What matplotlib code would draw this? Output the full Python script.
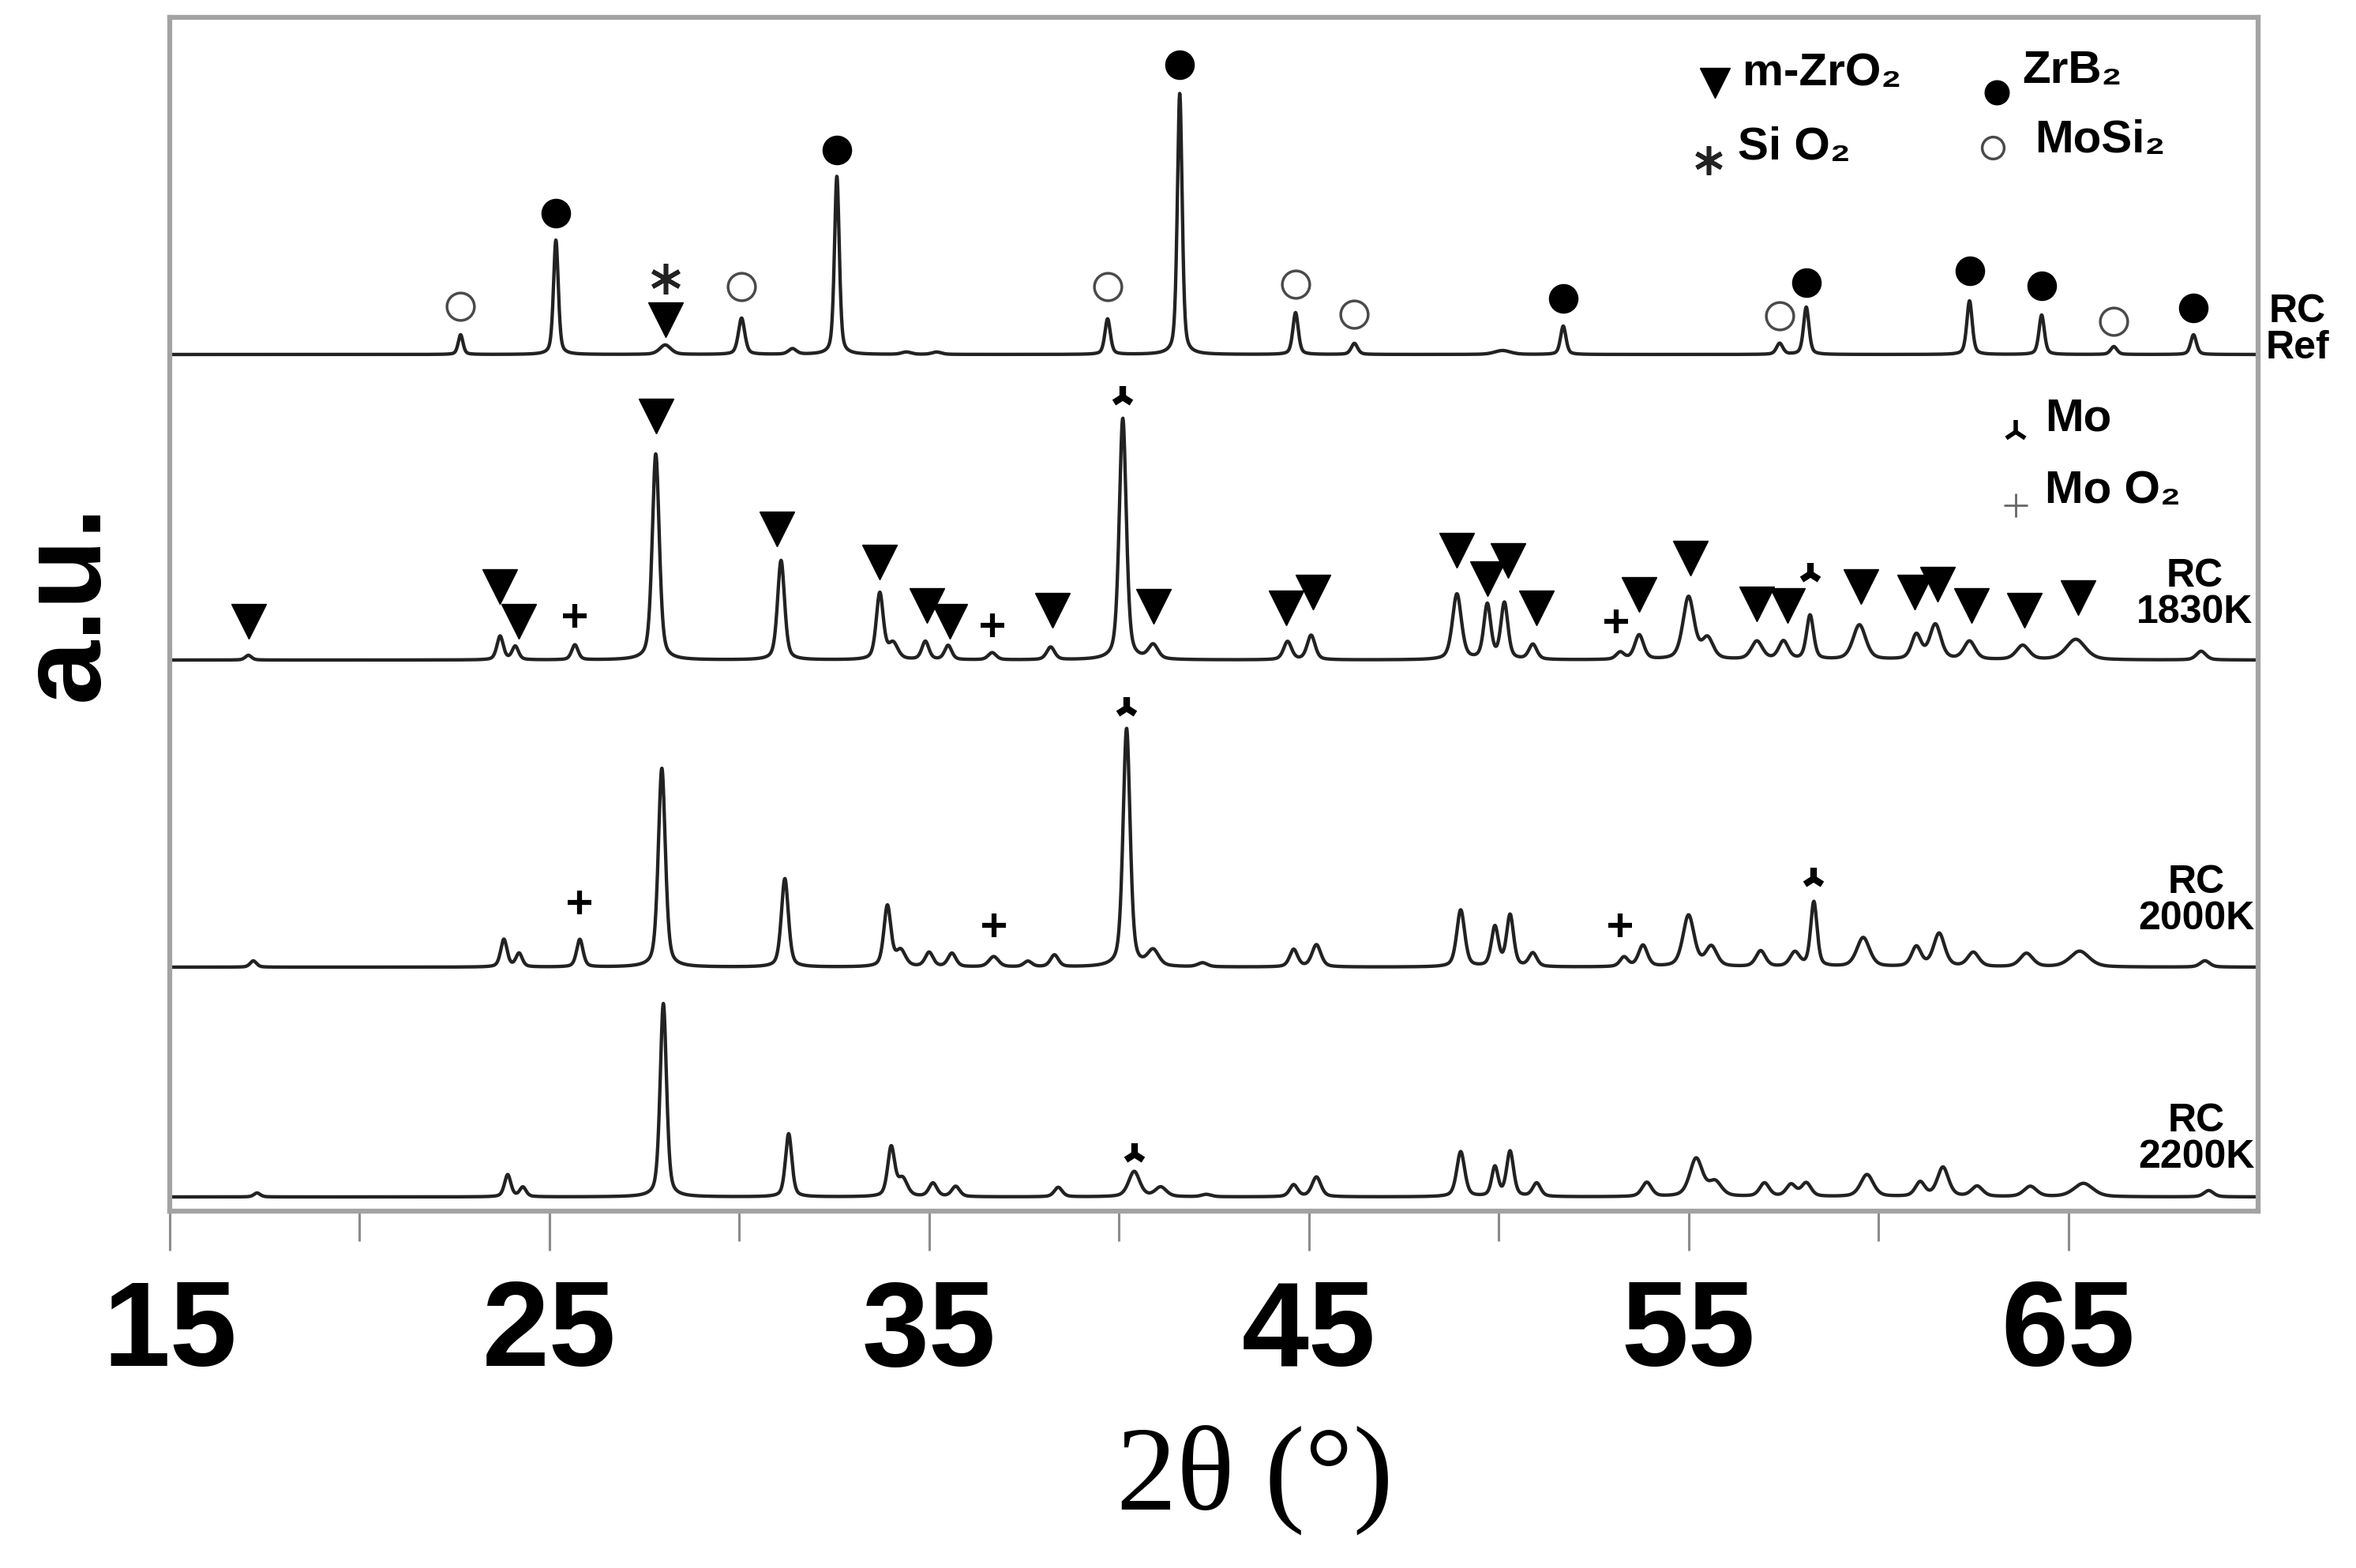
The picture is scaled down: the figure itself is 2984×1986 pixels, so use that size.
import numpy as np
import matplotlib
matplotlib.use("Agg")
import matplotlib.pyplot as plt

SANS = ["Liberation Sans", "DejaVu Sans"]
SERIF = ["Liberation Serif", "DejaVu Serif"]

# Peak tables: position (2theta), height (a.u.), FWHM
REF_POS = [22.66, 25.17, 28.05, 30.06, 31.4, 32.57, 34.4, 35.2, 39.7, 41.6,
           44.65, 46.2, 50.1, 51.7, 57.4, 58.1, 62.4, 64.3, 66.2, 68.3]
REF_HT = [25, 145, 12, 46, 7, 226, 3, 3, 45, 331,
          53, 14, 5, 36, 14, 60, 68, 50, 10, 25]
REF_W = [0.15, 0.15, 0.35, 0.2, 0.25, 0.15, 0.3, 0.3, 0.17, 0.15,
         0.17, 0.2, 0.5, 0.17, 0.2, 0.17, 0.17, 0.17, 0.2, 0.18]

K1830_POS = [17.07, 23.7, 24.1, 25.67, 27.8, 31.1, 33.7, 34.05, 34.9, 35.5,
             36.66, 38.2, 40.1, 40.9, 44.44, 45.06, 48.9, 49.7, 50.15, 50.9,
             53.2, 53.7, 55.0, 55.5, 56.8, 57.5, 58.2, 59.5, 61.0, 61.5,
             62.4, 63.8, 65.2, 68.5]
K1830_HT = [6, 30, 17, 19, 261, 126, 84, 20, 23, 18,
            9, 16, 306, 18, 23, 31, 83, 69, 71, 19,
            9, 31, 79, 26, 23, 23, 56, 44, 31, 44,
            23, 18, 26, 11]
K1830_W = [0.2, 0.2, 0.2, 0.2, 0.22, 0.22, 0.22, 0.3, 0.22, 0.22,
           0.25, 0.25, 0.22, 0.3, 0.25, 0.25, 0.28, 0.22, 0.22, 0.25,
           0.25, 0.28, 0.35, 0.35, 0.35, 0.3, 0.22, 0.4, 0.3, 0.35,
           0.35, 0.4, 0.6, 0.3]

K2000_POS = [17.2, 23.8, 24.2, 25.8, 27.96, 31.2, 33.9, 34.25, 35.0, 35.6,
             36.7, 37.6, 38.3, 40.2, 40.9, 42.2, 44.6, 45.2, 49.0, 49.9,
             50.3, 50.9, 53.3, 53.8, 55.0, 55.6, 56.9, 57.8, 58.3, 59.6,
             61.0, 61.6, 62.5, 63.9, 65.3, 68.6]
K2000_HT = [8, 35, 17, 35, 252, 112, 77, 20, 18, 17,
            13, 7, 15, 302, 20, 5, 22, 28, 72, 50,
            65, 17, 12, 27, 65, 25, 20, 18, 82, 37,
            25, 42, 18, 17, 20, 8]
K2000_W = [0.2, 0.2, 0.2, 0.2, 0.22, 0.22, 0.22, 0.3, 0.25, 0.25,
           0.3, 0.25, 0.25, 0.22, 0.35, 0.3, 0.25, 0.28, 0.25, 0.22,
           0.22, 0.25, 0.25, 0.28, 0.35, 0.35, 0.3, 0.3, 0.2, 0.4,
           0.3, 0.35, 0.35, 0.4, 0.6, 0.3]

K2200_POS = [17.3, 23.9, 24.3, 28.0, 31.3, 34.0, 34.3, 35.1, 35.7, 38.4,
             40.4, 41.1, 42.3, 44.6, 45.2, 49.0, 49.9, 50.3, 51.0, 53.9,
             55.2, 55.7, 57.0, 57.7, 58.1, 59.7, 61.1, 61.7, 62.6, 64.0,
             65.4, 68.7]
K2200_HT = [5, 28, 12, 245, 80, 62, 22, 17, 13, 12,
            32, 12, 3, 15, 25, 57, 37, 57, 17, 18,
            48, 18, 17, 15, 17, 28, 18, 37, 13, 13,
            17, 8]
K2200_W = [0.2, 0.2, 0.2, 0.2, 0.2, 0.22, 0.3, 0.25, 0.25, 0.25,
           0.35, 0.35, 0.3, 0.25, 0.28, 0.25, 0.2, 0.22, 0.25, 0.3,
           0.4, 0.4, 0.3, 0.3, 0.3, 0.4, 0.3, 0.35, 0.35, 0.4,
           0.6, 0.3]

# vertical offsets (baselines) of the stacked patterns
OFFSETS = [1085, 698, 309, 18]
LABELS = ["RC\nRef", "RC\n1830K", "RC\n2000K", "RC\n2200K"]

# phase markers: position and height above the pattern baseline
REF_ZRB2_POS = [25.17, 32.57, 41.6, 51.7, 58.1, 62.4, 64.3, 68.3]
REF_ZRB2_H = [179, 259, 367, 71, 91, 106, 87, 59]
REF_MOSI2_POS = [22.66, 30.06, 39.7, 44.65, 46.2, 57.4, 66.2]
REF_MOSI2_H = [61, 86, 86, 89, 51, 49, 42]
REF_ZRO2_POS = [28.05]
REF_ZRO2_H = [44]
REF_SIO2_POS = [28.05]
REF_SIO2_H = [96]

K1830_ZRO2_POS = [17.07, 23.7, 24.2, 27.8, 31.0, 33.7, 34.95, 35.55, 38.25,
                  40.9, 44.4, 45.1, 48.9, 49.7, 50.25, 51.0, 53.7, 55.05,
                  56.8, 57.6, 59.55, 60.95, 61.55, 62.45, 63.85, 65.25]
K1830_ZRO2_H = [49, 93, 49, 309, 166, 124, 69, 49, 63,
                68, 66, 86, 139, 103, 126, 66, 83, 129,
                71, 69, 93, 86, 96, 69, 63, 79]
K1830_MO_POS = [40.1, 58.2]
K1830_MO_H = [333, 109]
K1830_MOO2_POS = [25.67, 36.66, 53.1]
K1830_MOO2_H = [56, 44, 49]

K2000_MO_POS = [40.2, 58.3]
K2000_MO_H = [328, 112]
K2000_MOO2_POS = [25.8, 36.7, 53.2]
K2000_MOO2_H = [82, 53, 53]

K2200_MO_POS = [40.4]
K2200_MO_H = [54]

XTICKS = [15, 25, 35, 45, 55, 65]


def pseudo_voigt(x, pos, ht, wid, eta=0.45):
    y = np.zeros_like(x)
    for p, h, w in zip(pos, ht, wid):
        g = np.exp(-4 * np.log(2) * ((x - p) / w) ** 2)
        lo = 1.0 / (1.0 + 4 * ((x - p) / w) ** 2)
        y += h * (eta * lo + (1 - eta) * g)
    return y


def main():
    fig = plt.figure(figsize=(29.84, 19.86), dpi=100)
    ax = fig.add_axes([215 / 2984, 1 - 1534 / 1986,
                       (2860 - 215) / 2984, (1534 - 22) / 1986])

    x = np.linspace(15, 70, 6000)
    tables = [(REF_POS, REF_HT, REF_W), (K1830_POS, K1830_HT, K1830_W),
              (K2000_POS, K2000_HT, K2000_W), (K2200_POS, K2200_HT, K2200_W)]
    for (pos, ht, wid), off in zip(tables, OFFSETS):
        ax.plot(x, off + pseudo_voigt(x, pos, ht, wid), color="#222222",
                lw=3.1, solid_joinstyle="round")

    # marker styles
    tri = dict(marker="v", ms=32, color="black", ls="none")
    dot = dict(marker="o", ms=26, color="black", ls="none")
    ring = dict(marker="o", ms=25, mfc="white", mec="#4a4a4a", mew=2.5,
                ls="none")
    star = dict(marker=(6, 2, 0), ms=28, mew=4, color="#222222", ls="none")
    mo = dict(marker="2", ms=20, mew=6, color="black", ls="none")
    plus = dict(marker="+", ms=22, mew=4.5, color="black", ls="none")

    def put(pos, h, off, style):
        ax.plot(pos, np.array(h) + off, clip_on=False, **style)

    put(REF_ZRB2_POS, REF_ZRB2_H, OFFSETS[0], dot)
    put(REF_MOSI2_POS, REF_MOSI2_H, OFFSETS[0], ring)
    put(REF_ZRO2_POS, REF_ZRO2_H, OFFSETS[0], tri)
    put(REF_SIO2_POS, REF_SIO2_H, OFFSETS[0], star)

    put(K1830_ZRO2_POS, K1830_ZRO2_H, OFFSETS[1], tri)
    put(K1830_MO_POS, K1830_MO_H, OFFSETS[1], mo)
    put(K1830_MOO2_POS, K1830_MOO2_H, OFFSETS[1], plus)

    put(K2000_MO_POS, K2000_MO_H, OFFSETS[2], mo)
    put(K2000_MOO2_POS, K2000_MOO2_H, OFFSETS[2], plus)

    put(K2200_MO_POS, K2200_MO_H, OFFSETS[3], mo)

    # legend drawn by hand, as in the figure
    tr = ax.transAxes
    lg = dict(fontsize=42, fontweight="bold", family=SANS, va="center",
              ha="left", transform=tr)
    ax.plot([0.740], [0.945], transform=tr, clip_on=False,
            **dict(tri, ms=28))
    ax.text(0.753, 0.953, "m-ZrO\u2082", **lg)
    ax.plot([0.875], [0.937], transform=tr, clip_on=False,
            **dict(dot, ms=22))
    ax.text(0.887, 0.955, "ZrB\u2082", **lg)
    ax.plot([0.737], [0.880], transform=tr, clip_on=False,
            **dict(star, ms=26))
    ax.text(0.751, 0.891, "Si O\u2082", **lg)
    ax.plot([0.873], [0.891], transform=tr, clip_on=False,
            **dict(ring, ms=20))
    ax.text(0.893, 0.897, "MoSi\u2082", **lg)
    ax.plot([0.884], [0.653], transform=tr, clip_on=False,
            **dict(mo, ms=22, mew=4))
    ax.text(0.898, 0.664, "Mo", **lg)
    ax.plot([0.884], [0.591], transform=tr, clip_on=False,
            **dict(plus, ms=22, mew=2, color="#666666"))
    ax.text(0.898, 0.603, "Mo O\u2082", **lg)

    # sample labels
    lab = dict(fontsize=36, fontweight="bold", family=SANS, ha="center",
               va="center", linespacing=1.0, multialignment="center")
    fig.text(2910 / 2984, 1 - 418 / 1986, LABELS[0], **lab)
    fig.text(2780 / 2984, 1 - 753 / 1986, LABELS[1], **lab)
    fig.text(2782 / 2984, 1 - 1141 / 1986, LABELS[2], **lab)
    fig.text(2782 / 2984, 1 - 1443 / 1986, LABELS[3], **lab)

    ax.set_xlim(15, 70)
    ax.set_ylim(0, 1512)
    ax.set_yticks([])
    ax.set_xticks(XTICKS)
    ax.set_xticks(np.arange(20, 70, 10), minor=True)
    ax.tick_params(axis="x", which="major", direction="out", length=36,
                   width=2.2, color="#8c8c8c", pad=26)
    ax.tick_params(axis="x", which="minor", direction="out", length=27,
                   width=2.2, color="#8c8c8c")
    for lbl in ax.get_xticklabels():
        lbl.set_fontsize(110)
        lbl.set_fontweight("bold")
        lbl.set_family(SANS)
    for sp in ax.spines.values():
        sp.set_color("#a3a3a3")
        sp.set_linewidth(4.5)

    fig.text(1589 / 2984, 1 - 1875 / 1986, "2\u03b8 (\u00b0)", fontsize=110,
             family=SERIF, ha="center", va="center")
    fig.text(86 / 2984, 1 - 762 / 1986, "a.u.", fontsize=105,
             fontweight="bold", family=SANS, rotation=90, ha="center",
             va="center")

    fig.savefig("out.png", dpi=100, facecolor="white")


if __name__ == "__main__":
    main()
